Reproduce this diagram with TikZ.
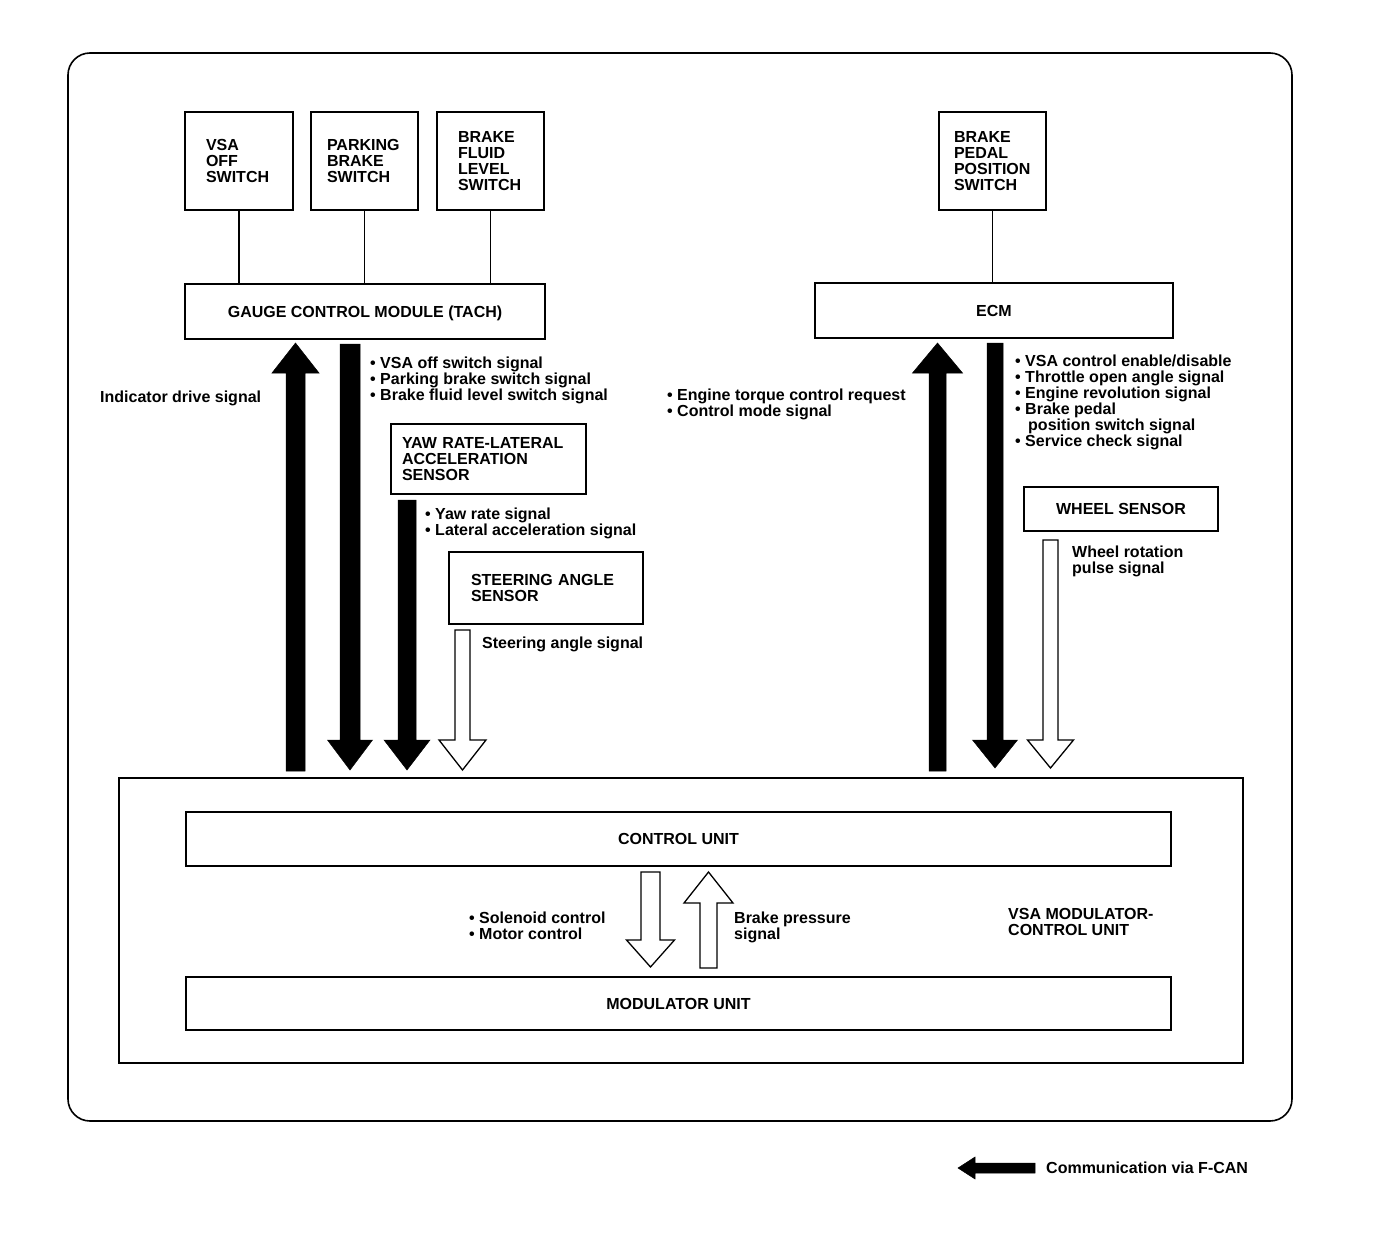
\documentclass[tikz,border=0pt]{standalone}
\usepackage{fontspec}
\setmainfont{Liberation Sans}
\newcommand\vblock[7]{% #1 style, #2 x, #3 tail y, #4 tip y, #5 half shaft, #6 half head, #7 signed head length
  \filldraw[#1] ({#2-#5},#3) -- ({#2-#5},{#4-(#7)}) -- ({#2-#6},{#4-(#7)}) -- (#2,#4)
    -- ({#2+#6},{#4-(#7)}) -- ({#2+#5},{#4-(#7)}) -- ({#2+#5},#3) -- cycle;}
\tikzset{
  txt/.style={font=\bfseries\fontsize{16}{16}\selectfont},
  box/.style={draw, line width=1.5pt, inner ysep=0pt, txt},
  cbox/.style={box, inner xsep=0pt, align=center, text height=11.5pt, text depth=0pt},
  lbl/.style={txt, inner sep=0pt, anchor=north west, align=left},
  link/.style={line width=1.3pt},
  solid arrow/.style={fill=black, draw=black, line width=0.5pt},
  hollow arrow/.style={fill=white, draw=black, line width=1.3pt},
}
\begin{document}
\begin{tikzpicture}[x=1pt,y=-1pt]
\useasboundingbox (0,0) rectangle (1376,1236);
% outer frame
\node[draw, line width=1.6pt, rounded corners=22pt, minimum width=1224pt, minimum height=1068pt] (outer) at (680,587) {};

% switches
\node[box, align=left, inner xsep=21pt, text width=66pt, minimum height=98pt] (vsaoff) at (239,161) {VSA\\OFF\\SWITCH};
\node[box, align=left, inner xsep=16pt, text width=75pt, minimum height=98pt] (park) at (364.5,161) {PARKING\\BRAKE\\SWITCH};
\node[box, align=left, inner xsep=21pt, text width=65pt, minimum height=98pt] (fluid) at (490.5,161) {BRAKE\\FLUID\\LEVEL\\SWITCH};
\node[box, align=left, inner xsep=15pt, text width=77pt, minimum height=98pt] (bpp) at (992.5,161) {BRAKE\\PEDAL\\POSITION\\SWITCH};

% modules
\node[cbox, minimum width=360pt, minimum height=55pt] (gcm) at (365,311.5) {GAUGE CONTROL MODULE (TACH)};
\node[cbox, minimum width=358pt, minimum height=55pt] (ecm) at (994,310.5) {ECM};

\draw[link] (vsaoff.south) -- (vsaoff.south |- gcm.north);
\draw[link] (park.south) -- (park.south |- gcm.north);
\draw[link] (fluid.south) -- (fluid.south |- gcm.north);
\draw[link] (bpp.south) -- (bpp.south |- ecm.north);

% sensors
\node[box, align=left, inner xsep=11pt, text width=173pt, minimum height=70pt] (yaw) at (488.5,459) {YAW RATE-LATERAL\\ACCELERATION\\SENSOR};
\node[box, align=left, inner xsep=22pt, text width=150pt, minimum height=72pt] (steer) at (546,588) {STEERING ANGLE\\SENSOR};
\node[cbox, minimum width=194pt, minimum height=44pt] (wheel) at (1121,509) {WHEEL SENSOR};

% modulator-control unit
\node[draw, line width=1.5pt, minimum width=1124pt, minimum height=285pt, inner sep=0pt] (vsamod) at (681,920.5) {};
\node[cbox, minimum width=985pt, minimum height=54pt] (cu) at (678.5,839) {CONTROL UNIT};
\node[cbox, minimum width=985pt, minimum height=53pt] (mu) at (678.5,1003.5) {MODULATOR UNIT};

% arrows
\vblock{solid arrow}{295.5}{771}{343}{9.5}{23.5}{-30}
\vblock{solid arrow}{350}{344}{770}{10}{22.5}{30}
\vblock{solid arrow}{407}{500}{770}{9}{23}{30}
\vblock{hollow arrow}{462.5}{630}{770}{7.5}{23.5}{30}
\vblock{solid arrow}{937.5}{771}{343}{8.5}{25}{-30}
\vblock{solid arrow}{995}{343}{768}{8}{22.5}{28}
\vblock{hollow arrow}{1050.5}{540}{768}{7.5}{23}{28}
\vblock{hollow arrow}{650.5}{872}{967}{9.5}{24}{27}
\vblock{hollow arrow}{708.5}{968}{872}{8.5}{24.5}{-31}

% labels
\node[lbl] (lind) at (100,391) {Indicator drive signal};
\node[lbl] (lgcm) at (370,357) {• VSA off switch signal\\• Parking brake switch signal\\• Brake fluid level switch signal};
\node[lbl] (lyaw) at (425,508) {• Yaw rate signal\\• Lateral acceleration signal};
\node[lbl] (lsteer) at (482,637) {Steering angle signal};
\node[lbl] (leng) at (667,389) {• Engine torque control request\\• Control mode signal};
\node[lbl] (lecm) at (1015,355) {• VSA control enable/disable\\• Throttle open angle signal\\• Engine revolution signal\\• Brake pedal\\\hspace*{13pt}position switch signal\\• Service check signal};
\node[lbl] (lwheel) at (1072,546) {Wheel rotation\\pulse signal};
\node[lbl] (lsol) at (469,912) {• Solenoid control\\• Motor control};
\node[lbl] (lbrk) at (734,912) {Brake pressure\\signal};
\node[lbl] (lmod) at (1008,908) {VSA MODULATOR-\\CONTROL UNIT};

% legend
\filldraw[solid arrow] (958,1168) -- (975,1157) -- (975,1163) -- (1035,1163) -- (1035,1173) -- (975,1173) -- (975,1179) -- cycle;
\node[lbl, anchor=west] (legend) at (1046,1168) {Communication via F-CAN};
\end{tikzpicture}
\end{document}
